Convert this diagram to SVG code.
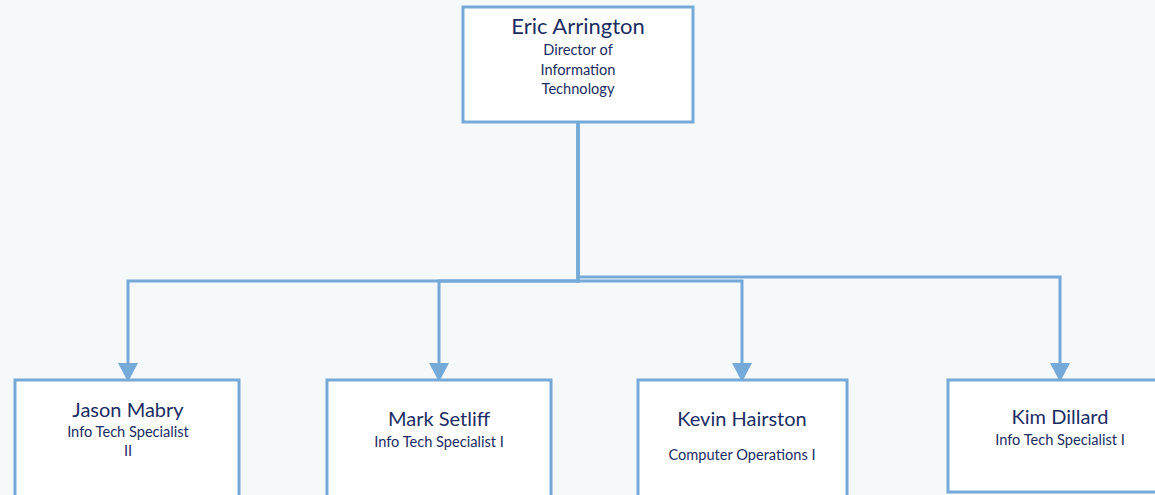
<svg xmlns="http://www.w3.org/2000/svg" width="1155" height="495" viewBox="0 0 1155 495">
<style>
.box{fill:#ffffff;stroke:#74a9d8;stroke-width:3}
.conn{fill:none;stroke:#74a9d8;stroke-width:3}
text{font-family:Lato,"Open Sans","Liberation Sans",sans-serif;fill:#1b2d63;text-anchor:middle}
.name{font-size:20px}
.title{font-size:14.6px}
</style>
<defs>
<marker id="arr" markerUnits="userSpaceOnUse" markerWidth="20" markerHeight="20" refX="0" refY="9" viewBox="0 0 17 18" orient="auto">
<path d="M0,0 L17,9 L0,18 Z" fill="#74a9d8"/>
</marker>
</defs>
<rect width="1155" height="495" fill="#f6f9fc"/>
<g id="connectors">
<path class="conn" d="M578,123 V281 H128 V363" marker-end="url(#arr)"/>
<path class="conn" d="M578,123 V281 H439 V363" marker-end="url(#arr)"/>
<path class="conn" d="M578,123 V281 H742 V363" marker-end="url(#arr)"/>
<path class="conn" d="M578,123 V277 H1060 V363" marker-end="url(#arr)"/>
</g>
<g id="eric">
<rect class="box" x="463" y="7" width="230" height="115"/>
<text x="578" y="34" style="font-size:22px">Eric Arrington</text>
<text class="title" x="578" y="55">Director of</text>
<text class="title" x="578" y="74.5">Information</text>
<text class="title" x="578" y="94">Technology</text>
</g>
<g id="jason">
<rect class="box" x="15" y="380" width="224" height="125"/>
<text class="name" x="128" y="417">Jason Mabry</text>
<text class="title" x="128" y="437">Info Tech Specialist</text>
<text class="title" x="128" y="456">II</text>
</g>
<g id="mark">
<rect class="box" x="327" y="380" width="224" height="125"/>
<text class="name" x="439" y="426">Mark Setliff</text>
<text class="title" x="439" y="447">Info Tech Specialist I</text>
</g>
<g id="kevin">
<rect class="box" x="638" y="380" width="209" height="125"/>
<text class="name" x="742" y="426">Kevin Hairston</text>
<text class="title" x="742" y="460">Computer Operations I</text>
</g>
<g id="kim">
<rect class="box" x="948" y="380" width="220" height="112"/>
<text class="name" x="1060" y="424">Kim Dillard</text>
<text class="title" x="1060" y="445">Info Tech Specialist I</text>
</g>
</svg>
